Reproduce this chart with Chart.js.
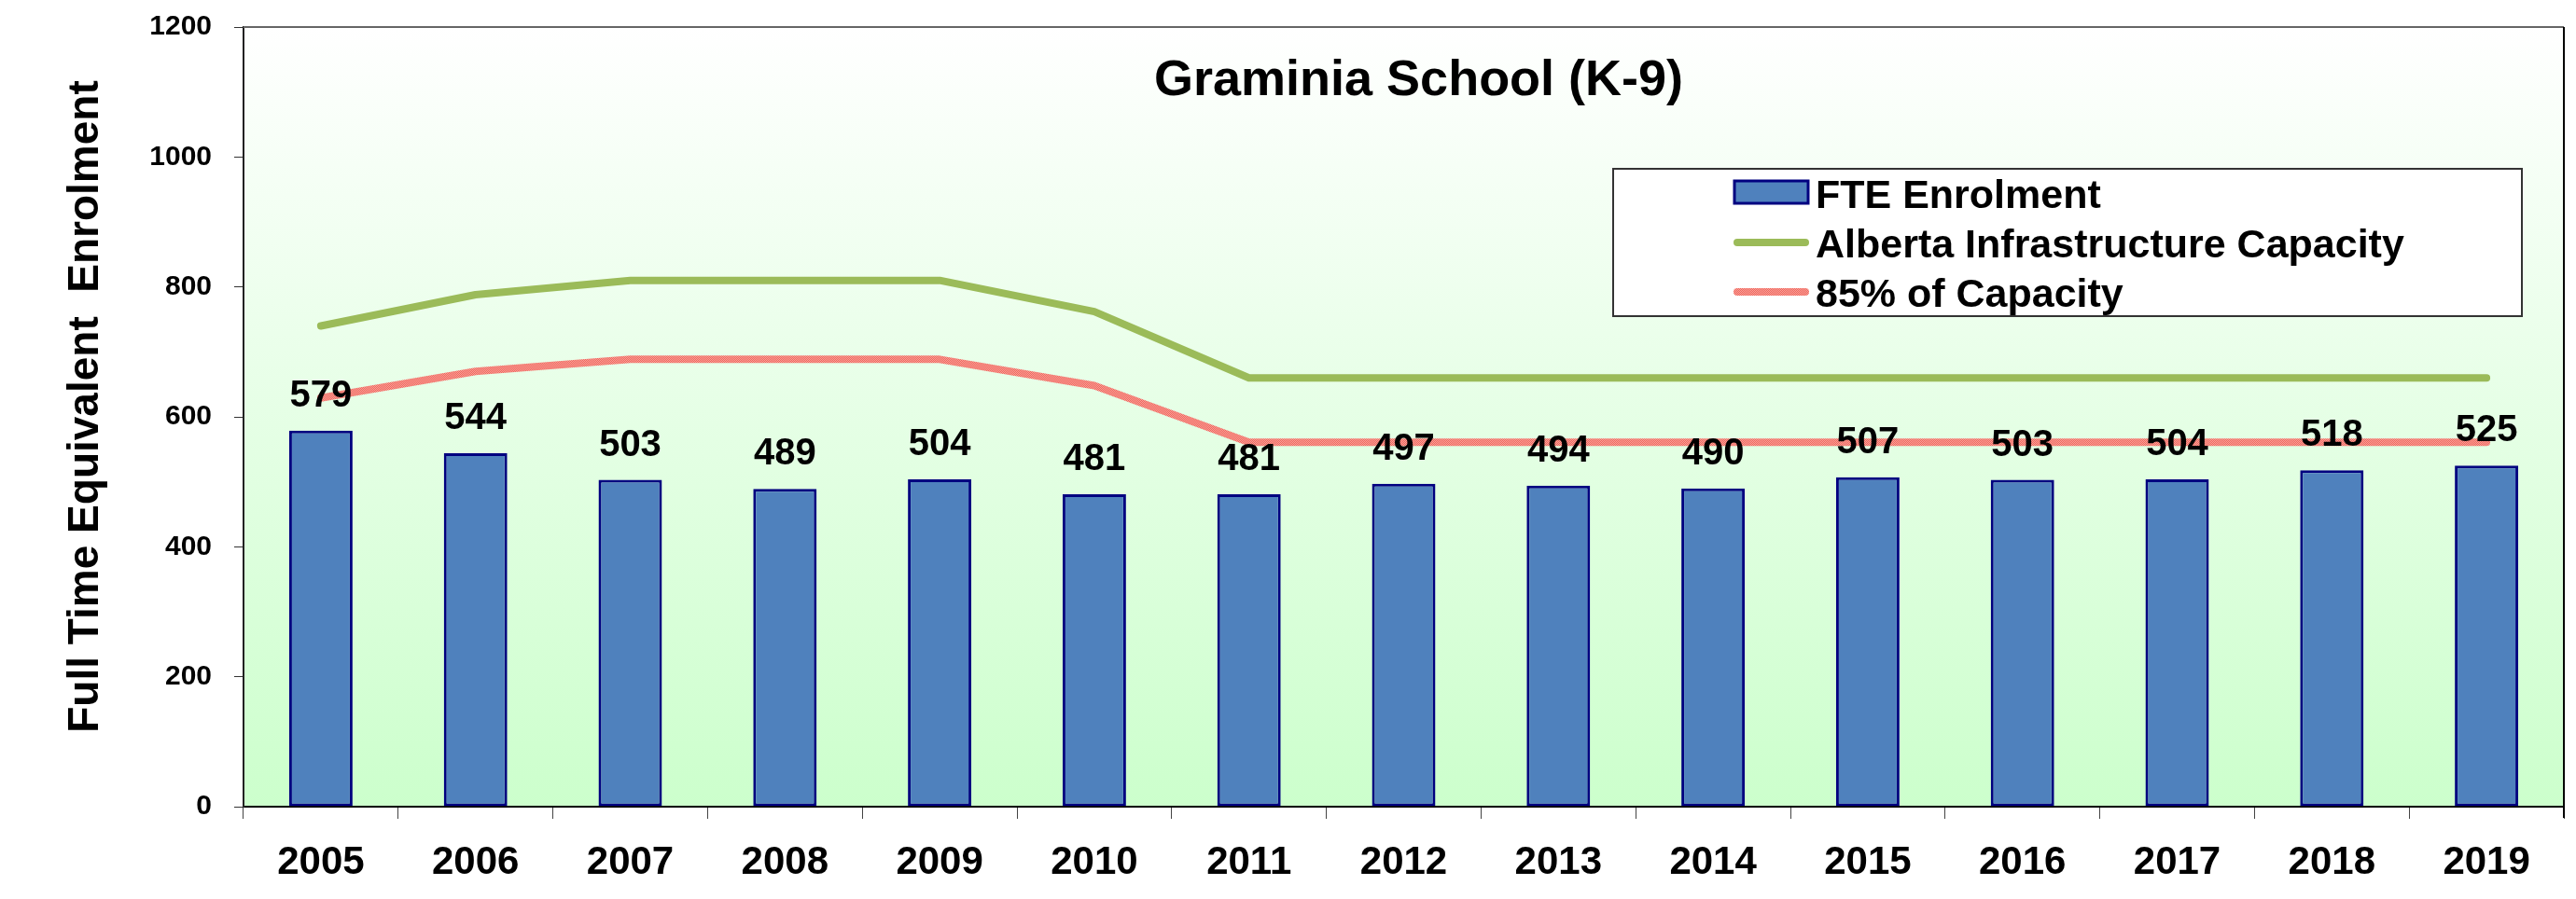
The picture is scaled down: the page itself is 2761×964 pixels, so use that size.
<!DOCTYPE html>
<html>
<head>
<meta charset="utf-8">
<script src="https://cdn.jsdelivr.net/npm/chart.js@4.4.0/dist/chart.umd.min.js"></script>
<style>
    html, body { margin: 0; padding: 0; background: #fff; }
    #wrap { width: 2761px; height: 964px; position: relative; }
</style>
</head>
<body>
<div id="wrap"><canvas id="enrolChart"></canvas></div>
<script>
// Chart data
const years = ['2005', '2006', '2007', '2008', '2009', '2010', '2011', '2012', '2013', '2014', '2015', '2016', '2017', '2018', '2019'];
const fteEnrolment = [579, 544, 503, 489, 504, 481, 481, 497, 494, 490, 507, 503, 504, 518, 525];
const capacity = [740, 788, 810, 810, 810, 762, 660, 660, 660, 660, 660, 660, 660, 660, 660];
const capacity85 = [629, 670, 688.5, 688.5, 688.5, 648, 561, 561, 561, 561, 561, 561, 561, 561, 561];
const yMin = 0, yMax = 1200, yStep = 200;

const chartTitle = 'Graminia School (K-9)';
const yTitle = 'Full Time Equivalent  Enrolment';
const legendLabels = ['FTE Enrolment', 'Alberta Infrastructure Capacity', '85% of Capacity'];

const FONT = "'Liberation Sans', Arial, sans-serif";
const barFill = '#4f81bd';
const barEdge = '#000080';
const greenLine = '#9bbb59';

// dithered salmon like the original 85% line
function makeRedPattern() {
    const c = document.createElement('canvas');
    c.width = 2; c.height = 2;
    const p = c.getContext('2d');
    p.fillStyle = '#f8a39b';
    p.fillRect(0, 0, 2, 2);
    p.fillStyle = '#f0655c';
    p.fillRect(0, 0, 1, 1);
    p.fillRect(1, 1, 1, 1);
    return p.createPattern(c, 'repeat');
}
const redLine = makeRedPattern();

// background gradient + frame + texts
const decorPlugin = {
    id: 'decor',
    beforeDraw(chart) {
        const { ctx, chartArea: a } = chart;
        ctx.save();
        ctx.fillStyle = '#fff';
        ctx.fillRect(0, 0, chart.width, chart.height);
        const g = ctx.createLinearGradient(0, a.top, 0, a.bottom);
        g.addColorStop(0, '#ffffff');
        g.addColorStop(1, '#ccffcc');
        ctx.fillStyle = g;
        ctx.fillRect(a.left, a.top, a.right - a.left, a.bottom - a.top);
        ctx.restore();
    },
    afterDatasetsDraw(chart) {
        const { ctx } = chart;
        // data labels above bars
        const meta = chart.getDatasetMeta(2);
        ctx.save();
        ctx.fillStyle = '#000';
        ctx.font = 'bold 40px ' + FONT;
        ctx.textAlign = 'center';
        ctx.textBaseline = 'alphabetic';
        meta.data.forEach((bar, i) => {
            ctx.fillText(String(fteEnrolment[i]), bar.x, bar.y - 26);
        });
        ctx.restore();
    },
    afterDraw(chart) {
        const { ctx, chartArea: a } = chart;
        ctx.save();
        // top + right frame
        ctx.strokeStyle = '#666';
        ctx.lineWidth = 2;
        ctx.beginPath();
        ctx.moveTo(a.left, a.top);
        ctx.lineTo(a.right, a.top);
        ctx.stroke();
        ctx.strokeStyle = '#000';
        ctx.beginPath();
        ctx.moveTo(a.right, a.top);
        ctx.lineTo(a.right, a.bottom + 12);
        ctx.stroke();

        // title
        ctx.fillStyle = '#000';
        ctx.font = 'bold 54px ' + FONT;
        ctx.textAlign = 'left';
        ctx.textBaseline = 'alphabetic';
        ctx.fillText(chartTitle, 1237, 102);

        // y axis title
        ctx.save();
        ctx.translate(105, 436);
        ctx.rotate(-Math.PI / 2);
        ctx.font = 'bold 46px ' + FONT;
        ctx.textAlign = 'center';
        ctx.fillText(yTitle, 0, 0);
        ctx.restore();

        // legend box
        ctx.fillStyle = '#fff';
        ctx.fillRect(1729, 181, 974, 158);
        ctx.strokeStyle = '#333';
        ctx.lineWidth = 2;
        ctx.strokeRect(1729, 181, 974, 158);

        // bar swatch
        ctx.fillStyle = barFill;
        ctx.fillRect(1859, 194, 79, 24);
        ctx.strokeStyle = barEdge;
        ctx.lineWidth = 3;
        ctx.strokeRect(1859, 194, 79, 24);

        // line swatches
        ctx.lineCap = 'round';
        ctx.lineWidth = 8;
        ctx.strokeStyle = greenLine;
        ctx.beginPath(); ctx.moveTo(1862, 260); ctx.lineTo(1935, 260); ctx.stroke();
        ctx.strokeStyle = redLine;
        ctx.beginPath(); ctx.moveTo(1862, 313); ctx.lineTo(1935, 313); ctx.stroke();

        ctx.fillStyle = '#000';
        ctx.font = 'bold 43px ' + FONT;
        ctx.textAlign = 'left';
        ctx.fillText(legendLabels[0], 1946, 223);
        ctx.fillText(legendLabels[1], 1946, 276);
        ctx.fillText(legendLabels[2], 1946, 329);
        ctx.restore();
    }
};

const ctx = document.getElementById('enrolChart').getContext('2d');
const enrolChart = new Chart(ctx, {
    data: {
        labels: years,
        datasets: [
            {
                type: 'line',
                label: legendLabels[1],
                data: capacity,
                borderColor: greenLine,
                borderWidth: 8,
                borderCapStyle: 'round',
                borderJoinStyle: 'round',
                pointRadius: 0,
                tension: 0,
                fill: false,
                order: 1
            },
            {
                type: 'line',
                label: legendLabels[2],
                data: capacity85,
                borderColor: redLine,
                borderWidth: 8,
                borderCapStyle: 'round',
                borderJoinStyle: 'round',
                pointRadius: 0,
                tension: 0,
                fill: false,
                order: 1
            },
            {
                type: 'bar',
                label: legendLabels[0],
                data: fteEnrolment,
                backgroundColor: barFill,
                borderColor: barEdge,
                borderWidth: 3,
                borderSkipped: false,
                categoryPercentage: 1,
                barPercentage: 0.41,
                order: 2
            }
        ]
    },
    options: {
        responsive: true,
        maintainAspectRatio: false,
        animation: false,
        layout: { padding: { top: 29, right: 13, left: 0, bottom: 0 } },
        plugins: {
            legend: { display: false },
            tooltip: { enabled: false }
        },
        scales: {
            x: {
                type: 'category',
                offset: true,
                grid: {
                    offset: true,
                    drawOnChartArea: false,
                    drawTicks: true,
                    tickLength: 13,
                    color: '#444'
                },
                border: { color: '#000', width: 2 },
                ticks: {
                    color: '#000',
                    font: { family: FONT, size: 42, weight: 'bold' },
                    padding: 22,
                    maxRotation: 0
                },
                afterFit(scale) {
                    scale.height = 99;
                    scale.paddingLeft = 0;
                    scale.paddingRight = 0;
                }
            },
            y: {
                min: yMin,
                max: yMax,
                grid: {
                    drawOnChartArea: false,
                    drawTicks: true,
                    tickLength: 10,
                    color: '#333'
                },
                border: { color: '#222', width: 2 },
                ticks: {
                    stepSize: yStep,
                    color: '#000',
                    font: { family: FONT, size: 30, weight: 'bold' },
                    padding: 24,
                    callback: (v) => String(v)
                },
                afterFit(scale) {
                    scale.width = 261;
                    scale.paddingTop = 0;
                    scale.paddingBottom = 0;
                }
            }
        }
    },
    plugins: [decorPlugin]
});
</script>
</body>
</html>
